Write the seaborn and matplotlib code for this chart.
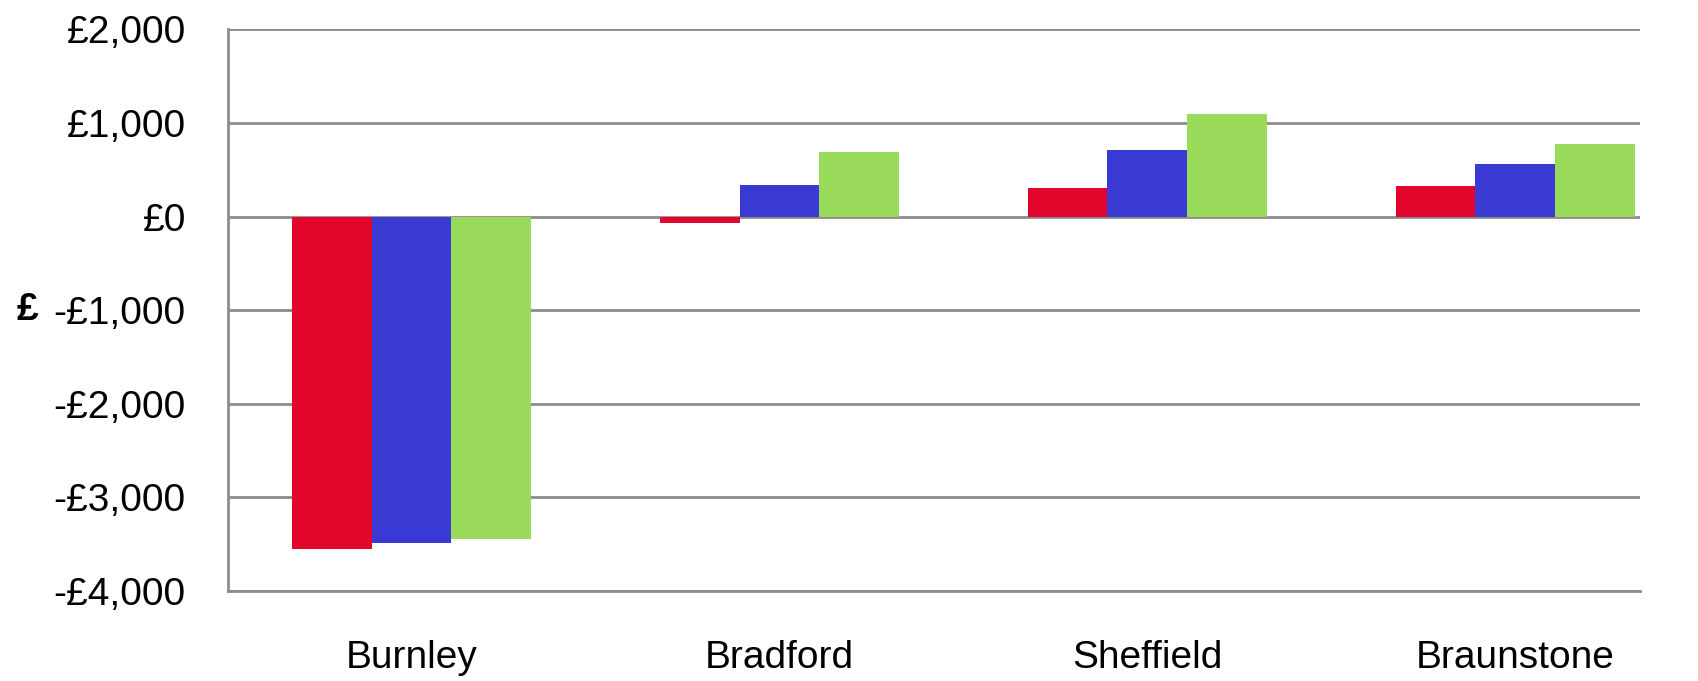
import pandas as pd
import matplotlib
matplotlib.use('Agg')
import matplotlib.pyplot as plt
import seaborn as sns
from matplotlib.ticker import FuncFormatter

# data
sites = ['Burnley', 'Bradford', 'Sheffield', 'Braunstone']
series_names = ['Series 1', 'Series 2', 'Series 3']
series_1 = [-3550, -70, 310, 330]
series_2 = [-3490, 340, 715, 565]
series_3 = [-3440, 690, 1090, 770]
colours = ['#E2062C', '#3A3AD4', '#9ADA5A']

rows = []
for name, vals in zip(series_names, [series_1, series_2, series_3]):
    for site, v in zip(sites, vals):
        rows.append({'site': site, 'series': name, 'value': v})
df = pd.DataFrame(rows)

sns.set_style('white')
plt.rcParams['font.family'] = ['Liberation Sans', 'DejaVu Sans']

fig = plt.figure(figsize=(16.98, 6.81), dpi=100)
ax = fig.add_axes([0.134, 0.132, 0.832, 0.825])

sns.barplot(data=df, x='site', y='value', hue='series', palette=colours,
            saturation=1, width=0.65, gap=0, legend=False, ax=ax, zorder=3)

for p in ax.patches:
    p.set_edgecolor('none')

ax.set_ylim(-4000, 2000)
ax.set_xlim(-0.5, 3.34)
ax.set_yticks(range(-4000, 2001, 1000))
ax.yaxis.set_major_formatter(FuncFormatter(
    lambda v, pos: ('-' if v < 0 else '') + '£{:,.0f}'.format(abs(v))))
ax.grid(axis='y', color='#8C8C8C', linewidth=2, zorder=0)
ax.grid(axis='x', visible=False)

for s in ['top', 'right']:
    ax.spines[s].set_visible(False)
for s in ['left', 'bottom']:
    ax.spines[s].set_color('#8C8C8C')
    ax.spines[s].set_linewidth(2)

ax.tick_params(axis='both', labelsize=28, length=0, labelcolor='black')
ax.tick_params(axis='x', pad=35)
ax.tick_params(axis='y', pad=30)
ax.set_xlabel('')
ax.set_ylabel('£', rotation=0, fontsize=28, fontweight='bold', color='black',
              va='center', ha='center')
ax.yaxis.set_label_coords(-0.1415, 0.5)

fig.savefig('out.png', dpi=100)
